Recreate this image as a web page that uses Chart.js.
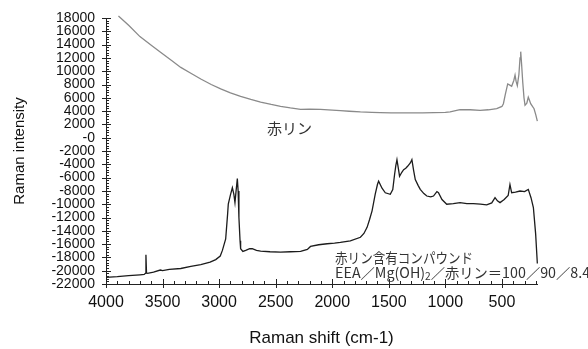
<!DOCTYPE html>
<html>
<head>
<meta charset="utf-8">
<script src="https://cdn.jsdelivr.net/npm/chart.js@4"></script>
<style>
  html, body { margin: 0; padding: 0; background: #fff; }
  #wrap { width: 588px; height: 349px; position: relative; }
</style>
</head>
<body>
<div id="wrap"><canvas id="ramanChart"></canvas></div>
<script>
// 赤リン (upper, grey trace)
var redPWave = [3890, 3800, 3700, 3600, 3515, 3420, 3339, 3250, 3162, 3070, 2986, 2900, 2810, 2720, 2633, 2540, 2457, 2370, 2280, 2200, 2104, 2000, 1928, 1850, 1751, 1650, 1575, 1480, 1399, 1300, 1200, 1100, 1000, 958, 900, 870, 780, 693, 620, 546, 500, 487, 470, 449, 430, 414, 395, 384, 375, 364, 350, 340, 334, 326, 316, 305, 296, 280, 267, 256, 246, 230, 216, 200, 187];
var redPIntensity = [18300, 16900, 15200, 13900, 12800, 11600, 10570, 9700, 8830, 8000, 7340, 6750, 6210, 5750, 5360, 5000, 4720, 4480, 4270, 4300, 4270, 4150, 4070, 3980, 3870, 3800, 3770, 3740, 3720, 3720, 3740, 3760, 3800, 3870, 4100, 4220, 4200, 4120, 4200, 4360, 4700, 5110, 6500, 8090, 7900, 7740, 8600, 9420, 8500, 7840, 9500, 12000, 12940, 11000, 8330, 6000, 4870, 5200, 6100, 5600, 5110, 4700, 4360, 3400, 2490];

// 赤リン含有コンパウンド (lower, black trace)
var compoundWave = [4000, 3900, 3800, 3700, 3662, 3652, 3647, 3642, 3632, 3580, 3520, 3500, 3440, 3339, 3250, 3162, 3080, 3030, 2990, 2971, 2942, 2925, 2919, 2900, 2883, 2870, 2860, 2850, 2839, 2832, 2825, 2815, 2810, 2790, 2765, 2730, 2707, 2670, 2633, 2550, 2457, 2370, 2280, 2220, 2192, 2120, 2045, 1980, 1928, 1840, 1751, 1720, 1692, 1670, 1648, 1620, 1600, 1590, 1560, 1531, 1487, 1465, 1449, 1438, 1428, 1415, 1405, 1385, 1369, 1350, 1334, 1310, 1296, 1280, 1266, 1240, 1222, 1190, 1164, 1130, 1105, 1075, 1061, 1030, 988, 930, 870, 810, 752, 690, 635, 590, 561, 540, 517, 480, 445, 429, 414, 380, 340, 300, 267, 243, 222, 202, 187];
var compoundIntensity = [-21000, -20900, -20750, -20620, -20560, -20400, -17590, -20300, -20410, -20200, -19900, -20000, -19800, -19670, -19350, -19070, -18700, -18330, -17800, -16950, -15210, -11500, -10000, -8600, -7530, -8500, -9760, -8000, -6140, -8000, -11990, -15500, -16690, -17100, -16950, -16700, -16690, -16950, -17050, -17150, -17200, -17150, -17090, -16800, -16350, -16100, -15950, -15850, -15750, -15500, -14970, -14400, -13480, -12300, -11000, -8500, -7000, -6540, -7600, -8280, -8510, -7800, -5540, -4200, -3310, -4700, -5790, -5200, -4800, -4600, -4300, -3800, -3310, -5000, -6300, -7200, -7770, -8400, -8770, -8900, -8770, -8100, -8280, -9300, -10000, -9900, -9760, -9900, -9910, -10000, -10100, -9800, -9020, -9500, -9760, -9300, -8700, -7040, -8280, -8200, -8020, -8100, -7770, -9020, -10500, -14460, -18920];

// tick labels
var xTickValues = [500, 1000, 1500, 2000, 2500, 3000, 3500, 4000];
var yTickValues = [-22000, -20000, -18000, -16000, -14000, -12000, -10000, -8000, -6000, -4000, -2000, 0, 2000, 4000, 6000, 8000, 10000, 12000, 14000, 16000, 18000];

var labelRedP = '赤リン';
var labelCompound1 = '赤リン含有コンパウンド';
var labelCompound2 = ['EEA／Mg(OH)', '2', '／赤リン＝100／90／8.4'];

function toPoints(xs, ys) {
    return xs.map(function (x, i) {
        return { x: x, y: ys[i] };
    });
}

var FONT = "'Liberation Sans', Arial, Helvetica, sans-serif";
var JP = "'Noto Sans CJK JP', 'Noto Sans', sans-serif";

// inward tick marks + text annotations
var extras = {
    id: 'extras',
    afterDraw: function (chart) {
        var ctx = chart.ctx;
        var x = chart.scales.x, y = chart.scales.y;
        var a = chart.chartArea;
        ctx.save();
        ctx.strokeStyle = '#222';
        ctx.lineWidth = 1;
        ctx.beginPath();
        for (var v = 200; v <= 4000; v += 100) {
            var px = Math.round(x.getPixelForValue(v)) + 0.5;
            if (v % 500 === 0) {
                ctx.moveTo(px, a.bottom + 4);
                ctx.lineTo(px, a.bottom - 5);
            } else {
                ctx.moveTo(px, a.bottom);
                ctx.lineTo(px, a.bottom - 3);
            }
        }
        for (var w = -22000; w <= 18000; w += 400) {
            var py = Math.round(y.getPixelForValue(w)) + 0.5;
            if (w % 2000 === 0) {
                ctx.moveTo(a.left - 4, py);
                ctx.lineTo(a.left + 5, py);
            } else {
                ctx.moveTo(a.left, py);
                ctx.lineTo(a.left + 3, py);
            }
        }
        ctx.stroke();

        ctx.fillStyle = '#333';
        ctx.textBaseline = 'middle';
        ctx.textAlign = 'left';
        ctx.font = '15px ' + JP;
        ctx.fillText(labelRedP, x.getPixelForValue(2577), y.getPixelForValue(1350));

        ctx.font = '14px ' + JP;
        var lx = x.getPixelForValue(1975);
        ctx.fillText(labelCompound1, lx, y.getPixelForValue(-18000), 138);

        // second line with subscript 2, squeezed horizontally
        var ly = y.getPixelForValue(-20350);
        var w0 = ctx.measureText(labelCompound2[0]).width;
        var w2 = ctx.measureText(labelCompound2[2]).width;
        ctx.font = '10px ' + JP;
        var w1 = ctx.measureText(labelCompound2[1]).width;
        var sx = 255 / (w0 + w1 + w2);
        ctx.translate(lx, ly);
        ctx.scale(sx, 1);
        ctx.font = '14px ' + JP;
        ctx.fillText(labelCompound2[0], 0, 0);
        ctx.font = '10px ' + JP;
        ctx.fillText(labelCompound2[1], w0, 3);
        ctx.font = '14px ' + JP;
        ctx.fillText(labelCompound2[2], w0 + w1, 0);
        ctx.restore();
    }
};

var ctx = document.getElementById('ramanChart').getContext('2d');

new Chart(ctx, {
    type: 'line',
    data: {
        datasets: [
            {
                label: labelRedP,
                data: toPoints(redPWave, redPIntensity),
                borderColor: '#8a8a8a',
                borderWidth: 1.3,
                pointRadius: 0,
                fill: false,
                clip: 6
            },
            {
                label: labelCompound1,
                data: toPoints(compoundWave, compoundIntensity),
                borderColor: '#1c1c1c',
                borderWidth: 1.3,
                pointRadius: 0,
                fill: false,
                clip: 6
            }
        ]
    },
    options: {
        responsive: true,
        maintainAspectRatio: false,
        animation: false,
        layout: {
            padding: { top: 15, right: 51, left: 0, bottom: 0 }
        },
        plugins: {
            legend: { display: false },
            tooltip: { enabled: false }
        },
        scales: {
            x: {
                type: 'linear',
                reverse: true,
                min: 190,
                max: 4000,
                afterBuildTicks: function (s) {
                    s.ticks = xTickValues.map(function (v) { return { value: v }; });
                },
                afterFit: function (s) { s.height = 65; },
                ticks: {
                    color: '#111',
                    padding: 9,
                    maxRotation: 0,
                    autoSkip: false,
                    font: { family: FONT, size: 16 },
                    callback: function (v) { return String(v); }
                },
                grid: { display: true, drawOnChartArea: false, drawTicks: false },
                border: { display: true, color: '#222', width: 1 },
                title: {
                    display: true,
                    text: 'Raman shift (cm-1)',
                    color: '#111',
                    font: { family: FONT, size: 17 },
                    padding: { top: 0, bottom: 0 }
                }
            },
            y: {
                min: -22000,
                max: 18000,
                afterBuildTicks: function (s) {
                    s.ticks = yTickValues.map(function (v) { return { value: v }; });
                },
                afterFit: function (s) { s.width = 106; },
                ticks: {
                    color: '#111',
                    padding: 11,
                    autoSkip: false,
                    font: { family: FONT, size: 14, lineHeight: 1 },
                    callback: function (v) { return v === 0 ? '-0' : String(v); }
                },
                grid: { display: true, drawOnChartArea: false, drawTicks: false },
                border: { display: true, color: '#222', width: 1 },
                title: {
                    display: true,
                    text: 'Raman intensity',
                    color: '#111',
                    font: { family: FONT, size: 15 },
                    padding: { top: 11, bottom: 0 }
                }
            }
        }
    },
    plugins: [extras]
});
</script>
</body>
</html>
